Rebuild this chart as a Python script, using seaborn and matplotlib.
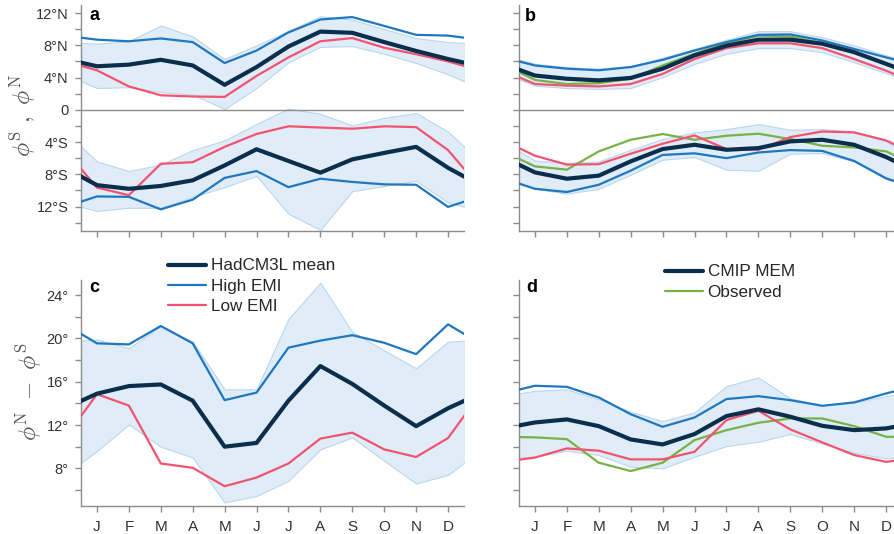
import numpy as np
import pandas as pd
import matplotlib
matplotlib.use("Agg")
import matplotlib.pyplot as plt
import seaborn as sns
from matplotlib.ticker import MultipleLocator

# ---------------- data (monthly, J..D) ----------------
months = ["J", "F", "M", "A", "M", "J", "J", "A", "S", "O", "N", "D"]

# panel a: HadCM3L, northern / southern ITCZ edge latitude
a_mean_N = [5.4, 5.6, 6.2, 5.5, 3.1, 5.3, 7.85, 9.7, 9.55, 8.4, 7.3, 6.3]
a_high_N = [8.7, 8.5, 8.85, 8.4, 5.8, 7.35, 9.6, 11.2, 11.5, 10.4, 9.3, 9.2]
a_low_N = [4.9, 2.9, 1.8, 1.65, 1.6, 4.2, 6.5, 8.5, 8.9, 7.7, 6.9, 6.0]
a_bandhi_N = [8.2, 8.5, 10.45, 9.1, 6.3, 8.0, 9.8, 11.6, 11.2, 10.0, 8.9, 8.4]
a_bandlo_N = [2.7, 2.8, 2.2, 1.9, 0.1, 2.7, 5.9, 7.8, 7.9, 6.95, 5.8, 4.4]
a_mean_S = [-9.35, -9.8, -9.45, -8.75, -6.9, -4.9, -6.35, -7.8, -6.15, -5.35, -4.6, -7.2]
a_high_S = [-10.75, -10.8, -12.35, -11.15, -8.45, -7.6, -9.6, -8.55, -8.95, -9.25, -9.3, -12.05]
a_low_S = [-9.65, -10.6, -6.7, -6.5, -4.6, -3.0, -2.05, -2.2, -2.35, -2.05, -2.15, -5.0]
a_bandhi_S = [-6.4, -7.6, -6.8, -5.0, -3.8, -1.75, 0.15, -0.5, -1.95, -1.0, -0.4, -2.7]
a_bandlo_S = [-12.55, -12.15, -12.15, -10.8, -9.6, -8.2, -12.9, -14.9, -10.1, -9.45, -8.8, -11.5]

# panel b: CMIP
b_mean_N = [4.25, 3.85, 3.65, 3.95, 5.1, 6.75, 7.95, 8.7, 8.7, 8.2, 7.15, 5.7]
b_high_N = [5.5, 5.1, 4.9, 5.3, 6.2, 7.35, 8.4, 9.3, 9.35, 8.6, 7.55, 6.5]
b_low_N = [3.2, 3.0, 2.9, 3.2, 4.45, 6.3, 7.65, 8.25, 8.25, 7.65, 6.3, 4.85]
b_obs_N = [3.7, 3.2, 3.3, 3.85, 5.5, 6.95, 8.25, 9.2, 9.1, 8.25, 7.15, 5.65]
b_bandhi_N = [5.7, 5.3, 5.1, 5.4, 6.45, 7.55, 8.7, 9.75, 9.75, 9.0, 8.0, 6.75]
b_bandlo_N = [3.0, 2.7, 2.6, 2.7, 4.05, 5.7, 6.95, 7.65, 7.65, 7.15, 5.9, 4.55]
b_mean_S = [-7.77, -8.55, -8.17, -6.4, -4.87, -4.34, -4.96, -4.75, -3.92, -3.72, -4.34, -5.86]
b_high_S = [-9.8, -10.2, -9.3, -7.55, -5.6, -5.4, -6.0, -5.3, -5.0, -5.1, -6.35, -8.5]
b_low_S = [-5.7, -6.8, -6.75, -5.45, -4.21, -3.18, -4.87, -4.96, -3.39, -2.69, -2.81, -3.8]
b_obs_S = [-7.02, -7.43, -5.16, -3.72, -3.01, -3.72, -3.22, -2.97, -3.63, -4.46, -4.67, -5.16]
b_bandhi_S = [-6.3, -6.6, -6.4, -4.96, -3.63, -2.81, -2.4, -1.78, -2.48, -2.4, -2.69, -3.92]
b_bandlo_S = [-9.8, -10.4, -9.8, -8.05, -6.2, -5.86, -7.43, -7.56, -5.45, -5.37, -6.4, -8.6]

# panel c: HadCM3L ITCZ width
c_mean = [14.9, 15.6, 15.75, 14.25, 10.0, 10.35, 14.25, 17.45, 15.8, 13.8, 11.9, 13.55]
c_high = [19.55, 19.45, 21.15, 19.55, 14.3, 15.0, 19.15, 19.8, 20.3, 19.6, 18.55, 21.3]
c_low = [14.85, 13.8, 8.45, 8.05, 6.35, 7.15, 8.45, 10.75, 11.3, 9.75, 9.05, 10.8]
c_bandhi = [19.9, 19.1, 21.15, 19.7, 15.3, 15.3, 21.8, 25.15, 20.6, 18.9, 17.25, 19.7]
c_bandlo = [9.6, 12.05, 10.0, 9.0, 4.85, 5.45, 6.85, 9.75, 10.85, 8.7, 6.6, 7.4]

# panel d: CMIP ITCZ width
d_mean = [12.24, 12.52, 11.9, 10.67, 10.21, 11.17, 12.83, 13.45, 12.77, 11.93, 11.53, 11.69]
d_high = [15.63, 15.53, 14.55, 13.0, 11.84, 12.7, 14.4, 14.67, 14.3, 13.78, 14.09, 14.92]
d_low = [9.0, 9.84, 9.63, 8.83, 8.83, 9.53, 12.46, 13.32, 11.6, 10.4, 9.23, 8.6]
d_obs = [10.86, 10.7, 8.52, 7.75, 8.52, 10.61, 11.53, 12.21, 12.61, 12.61, 11.9, 10.92]
d_bandhi = [15.17, 15.3, 14.37, 13.23, 12.37, 13.17, 15.6, 16.4, 14.46, 13.84, 14.09, 14.67]
d_bandlo = [9.07, 9.63, 9.23, 8.15, 8.0, 9.07, 10.06, 10.46, 11.17, 10.3, 9.44, 8.92]

a_yticks = [12, 8, 4, 0, -4, -8, -12]
a_yticklabels = ["12°N", "8°N", "4°N", "0", "4°S", "8°S", "12°S"]
c_yticks = [8, 12, 16, 20, 24]
c_yticklabels = ["8°", "12°", "16°", "20°", "24°"]

# ---------------- style ----------------
sns.set_style("ticks")
plt.rcParams["font.family"] = ["Liberation Sans", "DejaVu Sans"]
plt.rcParams["mathtext.fontset"] = "cm"

C_MEAN = "#0b2e4d"
C_HIGH = "#1f77c0"
C_LOW = "#f2536f"
C_OBS = "#78b146"
C_FILL = "#e0edf8"
C_EDGE = "#b9d7ef"
C_AX = "#8c8c8c"
C_TXT = "#333333"

W, H = 894, 534
fig = plt.figure(figsize=(W / 100, H / 100), dpi=100)


def add_ax(l, t, r, b):
    return fig.add_axes([l / W, 1 - b / H, (r - l) / W, (b - t) / H])


axa = add_ax(81, 5, 464, 230.7)
axb = add_ax(519, 5, 902, 230.7)
axc = add_ax(81, 280, 464, 505.7)
axd = add_ax(519, 280, 902, 505.7)

xs = np.arange(0, 14)


def wrap(v):
    v = list(v)
    return [v[-1]] + v + [v[0]]


def draw_line(ax, vals, color, lw):
    df = pd.DataFrame({"x": xs, "y": wrap(vals)})
    sns.lineplot(data=df, x="x", y="y", ax=ax, color=color, linewidth=lw,
                 legend=False, zorder=3)
    return ax.lines[-1]


def band(ax, lo, hi):
    ax.fill_between(xs, wrap(lo), wrap(hi), facecolor=C_FILL, edgecolor=C_EDGE,
                    linewidth=0.8, zorder=1)


def style(ax, ylim, yticks, ylabels, xlabels):
    ax.set_xlim(0.5, 12.5)
    ax.set_ylim(*ylim)
    ax.set_xticks(range(1, 13))
    ax.set_xticklabels(months if xlabels else [])
    ax.set_yticks(yticks)
    ax.set_yticklabels(ylabels if ylabels else [])
    ax.yaxis.set_minor_locator(MultipleLocator(2))
    for s in ["top", "right"]:
        ax.spines[s].set_visible(False)
    for s in ["left", "bottom"]:
        ax.spines[s].set_color(C_AX)
        ax.spines[s].set_linewidth(1.0)
    ax.tick_params(which="both", direction="out", length=4, width=1, color=C_AX,
                   labelcolor=C_TXT)
    ax.tick_params(axis="y", labelsize=10.5, pad=5)
    ax.tick_params(axis="x", labelsize=11, pad=6)
    ax.set_xlabel("")
    ax.set_ylabel("")


LW_MEAN, LW = 3.0, 1.6

# panel a
band(axa, a_bandlo_N, a_bandhi_N)
band(axa, a_bandlo_S, a_bandhi_S)
axa.axhline(0, color=C_AX, lw=1, zorder=2)
for hi, lo, mn in [(a_high_N, a_low_N, a_mean_N), (a_high_S, a_low_S, a_mean_S)]:
    draw_line(axa, hi, C_HIGH, LW)
    draw_line(axa, lo, C_LOW, LW)
    draw_line(axa, mn, C_MEAN, LW_MEAN)
style(axa, (-15, 13), a_yticks, a_yticklabels, False)

# panel b
band(axb, b_bandlo_N, b_bandhi_N)
band(axb, b_bandlo_S, b_bandhi_S)
axb.axhline(0, color=C_AX, lw=1, zorder=2)
for hi, lo, ob, mn in [(b_high_N, b_low_N, b_obs_N, b_mean_N),
                       (b_high_S, b_low_S, b_obs_S, b_mean_S)]:
    draw_line(axb, ob, C_OBS, LW)
    draw_line(axb, hi, C_HIGH, LW)
    draw_line(axb, lo, C_LOW, LW)
    draw_line(axb, mn, C_MEAN, LW_MEAN)
style(axb, (-15, 13), a_yticks, None, False)

# panel c
band(axc, c_bandlo, c_bandhi)
h_high = draw_line(axc, c_high, C_HIGH, LW)
h_low = draw_line(axc, c_low, C_LOW, LW)
h_mean = draw_line(axc, c_mean, C_MEAN, LW_MEAN)
style(axc, (4.55, 25.4), c_yticks, c_yticklabels, True)

# panel d
band(axd, d_bandlo, d_bandhi)
h_obs = draw_line(axd, d_obs, C_OBS, LW)
draw_line(axd, d_high, C_HIGH, LW)
draw_line(axd, d_low, C_LOW, LW)
h_cmip = draw_line(axd, d_mean, C_MEAN, LW_MEAN)
style(axd, (4.55, 25.4), c_yticks, None, True)


def ftext(x, y, s, **kw):
    fig.text(x / W, 1 - y / H, s, **kw)


# panel letters
for lx, ly, s in [(89, 20, "a"), (525, 20.7, "b"), (89, 291.7, "c"), (526, 291.7, "d")]:
    ftext(lx, ly, s, fontsize=13, fontweight="bold", ha="left", va="baseline", color="black")

# y labels
ftext(23, 116, r"$\phi^{\mathrm{S}}\ ,\ \phi^{\mathrm{N}}$", rotation=90, fontsize=17,
      ha="center", va="center", color="#555555")
ftext(29, 392, r"$\phi^{\mathrm{N}}\ -\ \phi^{\mathrm{S}}$", rotation=90, fontsize=17,
      ha="center", va="center", color="#555555")

# legends
leg_kw = dict(frameon=False, loc="upper left", fontsize=12.3, handlelength=2.2,
              handletextpad=0.3, labelspacing=0.3, borderpad=0, borderaxespad=0)
fig.legend([h_mean, h_high, h_low], ["HadCM3L mean", "High EMI", "Low EMI"],
           bbox_to_anchor=(168 / W, 1 - 258.5 / H), **leg_kw)
fig.legend([h_cmip, h_obs], ["CMIP MEM", "Observed"],
           bbox_to_anchor=(665 / W, 1 - 264.5 / H), **leg_kw)

fig.savefig("out.png", dpi=100)
